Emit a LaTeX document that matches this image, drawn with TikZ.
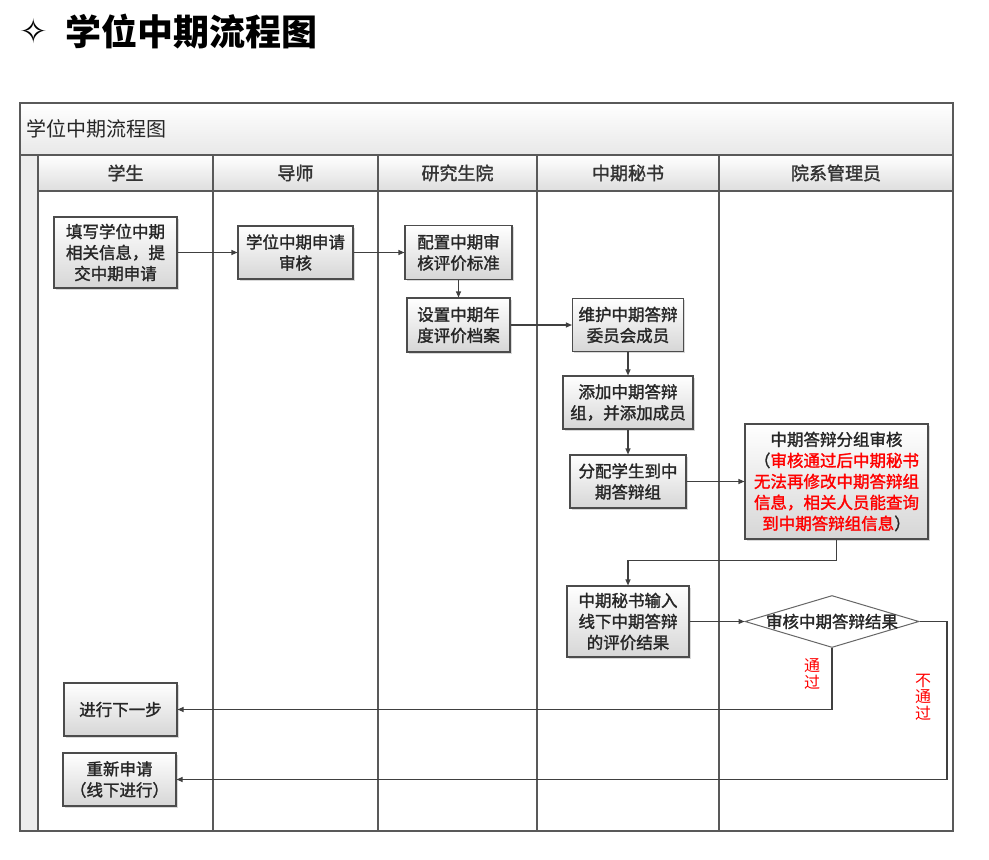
\documentclass[tikz,border=0pt]{standalone}
\usepackage{fontspec}
\setmainfont{Noto Sans CJK SC}
\newfontfamily\symbolfont{DejaVu Sans}
\newfontfamily\boxfont{Noto Sans CJK SC}[FakeBold=1.6]
\usetikzlibrary{arrows.meta,shapes.geometric,shadows}

\begin{document}
\begin{tikzpicture}[x=1pt,y=-1pt]
        \tikzstyle{every node}+=[inner sep=0pt]
        \tikzstyle{stepbox}=[draw=black!70, line width=1.1pt, top color=white, bottom color=black!16, drop shadow={shadow xshift=1.5pt,shadow yshift=-1.5pt,opacity=0.3}, align=center, text=black!85, font=\boxfont\fontsize{16.5}{21}\selectfont]
        \tikzstyle{decide}=[diamond, draw=black!60, line width=1pt, fill=white, minimum width=174pt, minimum height=52pt]
        \tikzstyle{flow}=[draw=black!75, line width=1.1pt, -{Triangle[length=6pt,width=5pt]}]
        \tikzstyle{frame}=[draw=black!65, line width=1.4pt]
        \tikzstyle{lanehead}=[font=\boxfont\fontsize{18}{20}\selectfont, text=black!80]
        \tikzstyle{note}=[text=red, align=center, font=\fontsize{16}{16.5}\selectfont]
        \useasboundingbox (0,0) rectangle (989,860);
        \node [font=\symbolfont\fontsize{34}{36}\selectfont] (star) at (34,31) {✧};
        \node [anchor=west, font=\fontsize{36}{40}\selectfont\bfseries] (title) at (65,32) {学位中期流程图};
        \shade [top color=white, bottom color=black!9] (20,103) rectangle (953,155);
        \shade [top color=white, bottom color=black!13] (38,155) rectangle (953,191);
        \fill [black!7] (20,155) rectangle (38,831);
        \draw [frame] (20,103) rectangle (953,831);
        \draw [frame] (20,155) -- (953,155);
        \draw [frame] (38,191) -- (953,191);
        \draw [frame] (38,155) -- (38,831);
        \draw [frame] (213,155) -- (213,831);
        \draw [frame] (378,155) -- (378,831);
        \draw [frame] (537,155) -- (537,831);
        \draw [frame] (719,155) -- (719,831);
        \node [anchor=west, font=\fontsize{20}{22}\selectfont, text=black!85] (tabletitle) at (26,129) {学位中期流程图};
        \node [lanehead] (student) at (125.5,173) {学生};
        \node [lanehead] (tutor) at (295.5,173) {导师};
        \node [lanehead] (school) at (457.5,173) {研究生院};
        \node [lanehead] (secretary) at (628,173) {中期秘书};
        \node [lanehead] (admin) at (836,173) {院系管理员};
        % boxes
        \node [stepbox, minimum width=123pt, minimum height=71pt] (fill) at (115.5,252.5) {填写学位中期\\相关信息，提\\交中期申请};
        \node [stepbox, minimum width=115pt, minimum height=53pt] (review) at (295.5,252.5) {学位中期申请\\审核};
        \node [stepbox, minimum width=107pt, minimum height=54pt] (config) at (458.5,252.5) {配置中期审\\核评价标准};
        \node [stepbox, minimum width=103pt, minimum height=54pt] (archive) at (458.5,325) {设置中期年\\度评价档案};
        \node [stepbox, minimum width=111pt, minimum height=53pt] (committee) at (628,325) {维护中期答辩\\委员会成员};
        \node [stepbox, minimum width=130pt, minimum height=53pt] (group) at (628,402.5) {添加中期答辩\\组，并添加成员};
        \node [stepbox, minimum width=116pt, minimum height=53pt] (assign) at (628,481.5) {分配学生到中\\期答辩组};
        \node [stepbox, minimum width=183pt, minimum height=115pt] (audit) at (836.5,481.5) {中期答辩分组审核\\（\textcolor{red}{审核通过后中期秘书}\\\textcolor{red}{无法再修改中期答辩组}\\\textcolor{red}{信息，相关人员能查询}\\\textcolor{red}{到中期答辩组信息}）};
        \node [stepbox, minimum width=122pt, minimum height=71pt] (input) at (628,621.5) {中期秘书输入\\线下中期答辩\\的评价结果};
        \node [decide, label={[font=\boxfont\fontsize{16.5}{20}\selectfont, text=black!85]center:审核中期答辩结果}] (decide) at (832,621.5) {};
        \node [stepbox, minimum width=113pt, minimum height=53pt] (next) at (120.5,709.5) {进行下一步};
        \node [stepbox, minimum width=113pt, minimum height=53pt] (reapply) at (119.5,779.5) {重新申请\\（线下进行）};
        % connectors
        \draw [flow] (fill) -- (review);
        \draw [flow] (review) -- (config);
        \draw [flow] (config) -- (archive);
        \draw [flow] (archive) -- (committee);
        \draw [flow] (committee) -- (group);
        \draw [flow] (group) -- (assign);
        \draw [flow] (assign) -- (audit);
        \draw [flow] (audit.south) -- ++(0,21) -| (input.north);
        \draw [flow] (input) -- (decide);
        \draw [flow] (decide.south) |- (next.east);
        \coordinate (failturn) at (947,621.5);
        \draw [flow] (decide.east) -- (failturn) |- (reapply.east);
        \node [note] (passlbl) at (812,674) {通\\过};
        \node [note] (faillbl) at (923,697) {不\\通\\过};
\end{tikzpicture}
\end{document}
